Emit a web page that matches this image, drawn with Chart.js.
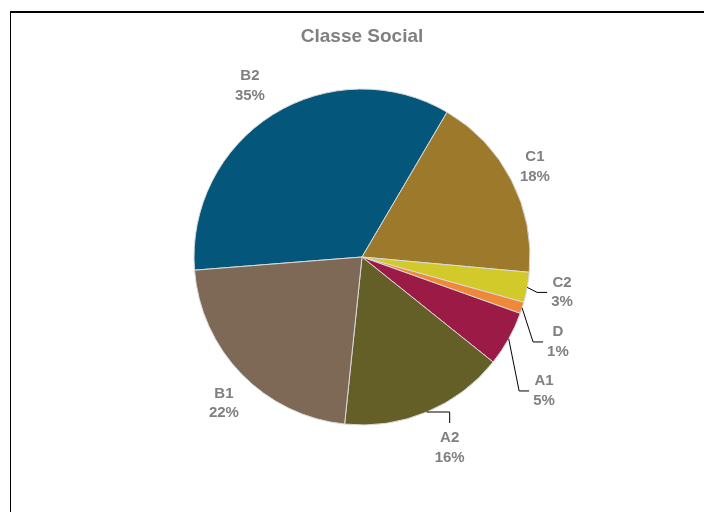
<!DOCTYPE html>
<html>
<head>
<meta charset="utf-8">
<script src="https://cdn.jsdelivr.net/npm/chart.js@4.4.0/dist/chart.umd.min.js"></script>
<style>
html, body { margin: 0; padding: 0; background: #fff; }
#wrap { position: relative; width: 704px; height: 512px; overflow: hidden; }
#wrap canvas { position: absolute; left: 0; top: 0; }
#frame { position: absolute; left: 10px; top: 11px; right: -2px; bottom: -2px;
         border-top: 2px solid #000; border-left: 1px solid #000; pointer-events: none; }
</style>
</head>
<body>
<div id="wrap">
  <canvas id="pieChart" width="704" height="512"></canvas>
  <div id="frame"></div>
</div>
<script>
// dados
const categories = ['B2', 'C1', 'C2', 'D', 'A1', 'A2', 'B1'];
const shares = [34.7, 18.0, 2.9, 1.1, 5.3, 15.9, 22.1];
const sliceColors = ['#04577b', '#9d792c', '#d2ca2b', '#f0883a', '#9c1a46', '#635f27', '#7d6955'];

// rótulos fora da pizza, com linhas de chamada nas fatias pequenas
const sliceLabels = {
    id: 'sliceLabels',
    afterDatasetsDraw(chart, args, opts) {
        const ctx = chart.ctx;
        const meta = chart.getDatasetMeta(0);
        ctx.save();
        ctx.font = opts.font;
        ctx.textAlign = 'center';
        ctx.textBaseline = 'middle';
        meta.data.forEach((arc, i) => {
            const { x, y, startAngle, endAngle, outerRadius } =
                arc.getProps(['x', 'y', 'startAngle', 'endAngle', 'outerRadius'], true);
            const mid = (startAngle + endAngle) / 2;
            const a = mid + opts.turn[i] * Math.PI / 180;
            const d = outerRadius * opts.dist[i];
            const lx = x + Math.cos(a) * d;
            const ly = y + Math.sin(a) * d;
            const lines = [categories[i], Math.round(shares[i]) + '%'];
            const y1 = ly - opts.lineGap / 2;
            const y2 = ly + opts.lineGap / 2;
            ctx.fillStyle = opts.color;
            ctx.fillText(lines[0], lx, y1);
            ctx.fillText(lines[1], lx, y2);

            const kind = opts.leaders[i];
            if (!kind) return;
            const ex = x + Math.cos(mid) * outerRadius;
            const ey = y + Math.sin(mid) * outerRadius;
            ctx.strokeStyle = '#000';
            ctx.lineWidth = 1;
            ctx.beginPath();
            ctx.moveTo(ex, ey);
            if (kind === 'side') {
                const w = Math.max(ctx.measureText(lines[0]).width, ctx.measureText(lines[1]).width);
                const endX = lx - w / 2 - 4;
                ctx.lineTo(endX - 10, ly);
                ctx.lineTo(endX, ly);
            } else {
                ctx.lineTo(lx, ey);
                ctx.lineTo(lx, y1 - 15);
            }
            ctx.stroke();
        });
        ctx.restore();
    }
};

new Chart(document.getElementById('pieChart'), {
    type: 'pie',
    data: {
        labels: categories,
        datasets: [{
            data: shares,
            backgroundColor: sliceColors,
            borderColor: '#d9d9d9',
            borderWidth: 1,
            hoverOffset: 0,
            radius: 168
        }]
    },
    options: {
        responsive: false,
        animation: false,
        devicePixelRatio: 1,
        rotation: 265.5,
        layout: { padding: { left: 30, right: 10, top: 0, bottom: 65.8 } },
        plugins: {
            legend: { display: false },
            tooltip: { enabled: false },
            title: {
                display: true,
                text: 'Classe Social',
                color: '#808080',
                font: { family: '"Liberation Sans", Arial, sans-serif', size: 19, weight: 'bold' },
                padding: { top: 25, bottom: 20 }
            },
            sliceLabels: {
                font: 'bold 15px "Liberation Sans", Arial, sans-serif',
                color: '#808080',
                lineGap: 19.5,
                dist: [1.217, 1.16, 1.209, 1.271, 1.345, 1.25, 1.198],
                turn: [-1.2, -0.3, -0.4, 5.8, 7.2, -2.0, -2.4],
                leaders: [null, null, 'side', 'side', 'side', 'below', null]
            }
        }
    },
    plugins: [sliceLabels]
});
</script>
</body>
</html>
